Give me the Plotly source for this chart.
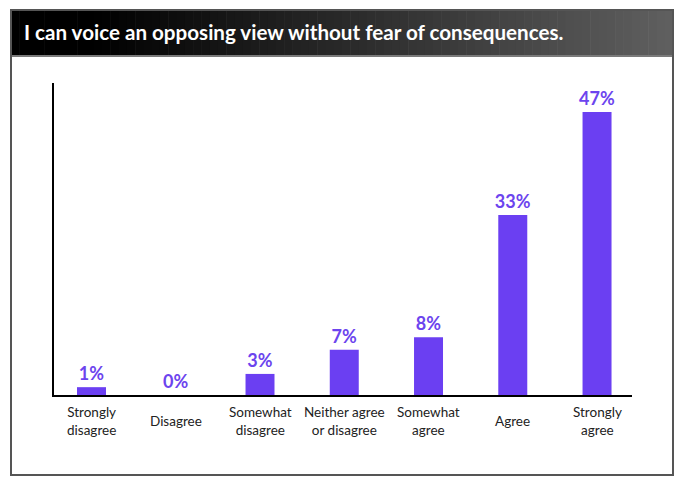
import plotly.graph_objects as go

# ---- data ----
categories = ["Strongly\ndisagree", "Disagree", "Somewhat\ndisagree", "Neither agree\nor disagree",
              "Somewhat\nagree", "Agree", "Strongly\nagree"]
values = [1.3, 0.0, 3.5, 7.5, 9.6, 29.9, 47.0]          # bar heights as drawn
labels = ["1%", "0%", "3%", "7%", "8%", "33%", "47%"]  # printed labels
title_text = "I can voice an opposing view without fear of consequences."

W, H = 685, 487
def px(x): return x / W
def py(y): return 1 - y / H

BAR = "#6B3FF2"
xpos = list(range(len(categories)))

fig = go.Figure()
fig.add_trace(go.Bar(
    x=xpos, y=values, width=0.344, marker=dict(color=BAR, line=dict(width=0)),
    text=labels, textposition="outside", cliponaxis=False, constraintext="none",
    textfont=dict(family="Lato", size=18, color="#6C44EE", weight="bold"),
    hoverinfo="skip",
))

shapes = []
# gradient title bar
n = 80
x0, x1, y0, y1 = 11, 673, 10, 55
for i in range(n):
    t = i / (n - 1)
    g = 0 if t < 0.12 else int(round(95 * (t - 0.12) / 0.88))
    col = f"rgb({g},{g},{g})"
    xa = x0 + (x1 - x0) * i / n
    xb = x0 + (x1 - x0) * (i + 1) / n + 0.6
    shapes.append(dict(type="rect", xref="paper", yref="paper", x0=px(xa), x1=px(min(xb, x1)),
                       y0=py(y1), y1=py(y0), fillcolor=col, line=dict(width=0), layer="below"))
# line below title
shapes.append(dict(type="line", xref="paper", yref="paper", x0=px(x0), x1=px(x1), y0=py(56), y1=py(56),
                   line=dict(color="#7a7a7a", width=2)))
# outer frame
shapes.append(dict(type="rect", xref="paper", yref="paper", x0=px(11), x1=px(673), y0=py(475), y1=py(10),
                   line=dict(color="#555555", width=2), fillcolor="rgba(0,0,0,0)"))

annotations = [dict(text=title_text, xref="paper", yref="paper", x=px(22), y=py(32),
                    xanchor="left", yanchor="middle", showarrow=False,
                    font=dict(family="Lato", size=20.6, color="white", weight="bold"))]
# category labels
for i, c in enumerate(categories):
    annotations.append(dict(text=c.replace("\n", "<br>"), x=i, xref="x", yref="paper", y=py(421),
                            xanchor="center", yanchor="middle", showarrow=False, borderpad=0,
                            font=dict(family="Lato", size=13.5, color="#222222")))

fig.update_layout(
    width=W, height=H, margin=dict(l=0, r=0, t=0, b=0),
    paper_bgcolor="white", plot_bgcolor="white", showlegend=False,
    shapes=shapes, annotations=annotations,
    xaxis=dict(domain=[px(54), px(632)], range=[-0.445, 6.415], showticklabels=False, ticks="",
               showgrid=False, zeroline=False, showline=True, linecolor="black", linewidth=2, fixedrange=True),
    yaxis=dict(domain=[py(395), py(83)], range=[0, 51.8], showticklabels=False, ticks="",
               showgrid=False, zeroline=False, showline=True, linecolor="black", linewidth=2, fixedrange=True),
)

fig.write_html("out.html")
